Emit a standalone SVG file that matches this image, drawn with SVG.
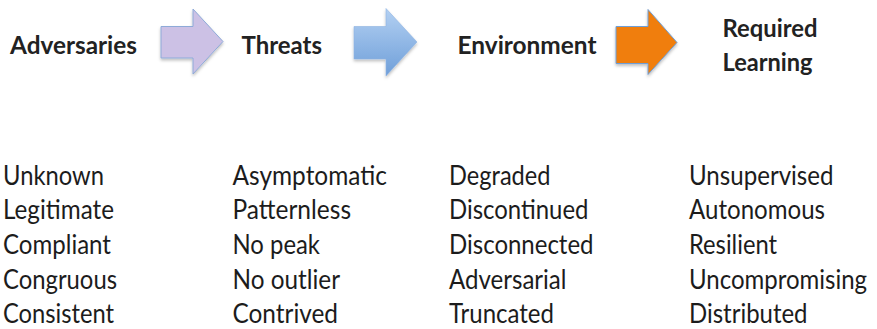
<svg xmlns="http://www.w3.org/2000/svg" width="877" height="329" viewBox="0 0 877 329">
  <style>
    .head { font-family: Lato, "Open Sans", "Liberation Sans", sans-serif; font-weight: bold; font-size: 25px; fill: #222222; }
    .item { font-family: Lato, "Open Sans", "Liberation Sans", sans-serif; font-size: 26px; fill: #1c1c1c; }
    .arrow { filter: url(#shadow); }
  </style>
  <defs>
    <filter id="shadow" x="-20%" y="-20%" width="140%" height="150%">
      <feDropShadow dx="0" dy="2" stdDeviation="1.5" flood-color="#000000" flood-opacity="0.25"/>
    </filter>
    <linearGradient id="blueFill" x1="0" y1="0" x2="0" y2="1">
      <stop offset="0" stop-color="#b3d0f2"/>
      <stop offset="1" stop-color="#6f9fd9"/>
    </linearGradient>
  </defs>
  <rect width="877" height="329" fill="#ffffff"/>

  <!-- stage headings -->
  <g id="adversaries">
    <text class="head" x="10" y="53.5" textLength="127" lengthAdjust="spacingAndGlyphs">Adversaries</text>
  </g>
  <g id="threats">
    <text class="head" x="241.5" y="53.5" textLength="80.5" lengthAdjust="spacingAndGlyphs">Threats</text>
  </g>
  <g id="environment">
    <text class="head" x="457.5" y="53.5" textLength="139" lengthAdjust="spacingAndGlyphs">Environment</text>
  </g>
  <g id="required-learning">
    <text class="head" x="722.5" y="36.5" textLength="95" lengthAdjust="spacingAndGlyphs">Required</text>
    <text class="head" x="722.5" y="70.5" textLength="90" lengthAdjust="spacingAndGlyphs">Learning</text>
  </g>

  <!-- block arrows between stages -->
  <g id="connectors">
    <path class="arrow" d="M161,26.5 H193 V9 L223,41.5 L193,74 V58 H161 Z" fill="#ccc1e5" stroke="#8eaad8" stroke-width="1"/>
    <path class="arrow" d="M354,26.5 H386 V8.5 L417,42 L386,76 V59 H354 Z" fill="url(#blueFill)" stroke="#8fb4e2" stroke-width="0.6"/>
    <path class="arrow" d="M616,26.5 H648 V9.5 L677,42.5 L648,74.5 V63.5 H616 Z" fill="#f07e0a" stroke="#6e9fd8" stroke-width="1"/>
  </g>

  <!-- column: adversaries -->
  <g id="list-adversaries">
    <text class="item" x="3" y="184.5" textLength="101" lengthAdjust="spacingAndGlyphs">Unknown</text>
    <text class="item" x="3" y="219.3" textLength="111" lengthAdjust="spacingAndGlyphs">Legitimate</text>
    <text class="item" x="3" y="254" textLength="108" lengthAdjust="spacingAndGlyphs">Compliant</text>
    <text class="item" x="3" y="288.7" textLength="114" lengthAdjust="spacingAndGlyphs">Congruous</text>
    <text class="item" x="3" y="323.4" textLength="111" lengthAdjust="spacingAndGlyphs">Consistent</text>
  </g>

  <!-- column: threats -->
  <g id="list-threats">
    <text class="item" x="232.5" y="184.5" textLength="154.5" lengthAdjust="spacingAndGlyphs">Asymptomatic</text>
    <text class="item" x="232.5" y="219.3" textLength="118.5" lengthAdjust="spacingAndGlyphs">Patternless</text>
    <text class="item" x="232.5" y="254" textLength="87.5" lengthAdjust="spacingAndGlyphs">No peak</text>
    <text class="item" x="232.5" y="288.7" textLength="107.5" lengthAdjust="spacingAndGlyphs">No outlier</text>
    <text class="item" x="232.5" y="323.4" textLength="105.5" lengthAdjust="spacingAndGlyphs">Contrived</text>
  </g>

  <!-- column: environment -->
  <g id="list-environment">
    <text class="item" x="449" y="184.5" textLength="101.5" lengthAdjust="spacingAndGlyphs">Degraded</text>
    <text class="item" x="449" y="219.3" textLength="139.5" lengthAdjust="spacingAndGlyphs">Discontinued</text>
    <text class="item" x="449" y="254" textLength="144.5" lengthAdjust="spacingAndGlyphs">Disconnected</text>
    <text class="item" x="449" y="288.7" textLength="117.5" lengthAdjust="spacingAndGlyphs">Adversarial</text>
    <text class="item" x="449" y="323.4" textLength="105" lengthAdjust="spacingAndGlyphs">Truncated</text>
  </g>

  <!-- column: required learning -->
  <g id="list-learning">
    <text class="item" x="689" y="184.5" textLength="144.5" lengthAdjust="spacingAndGlyphs">Unsupervised</text>
    <text class="item" x="689" y="219.3" textLength="136" lengthAdjust="spacingAndGlyphs">Autonomous</text>
    <text class="item" x="689" y="254" textLength="88" lengthAdjust="spacingAndGlyphs">Resilient</text>
    <text class="item" x="689" y="288.7" font-size="24" textLength="178" lengthAdjust="spacingAndGlyphs">Uncompromising</text>
    <text class="item" x="689" y="323.4" textLength="118.5" lengthAdjust="spacingAndGlyphs">Distributed</text>
  </g>
</svg>
